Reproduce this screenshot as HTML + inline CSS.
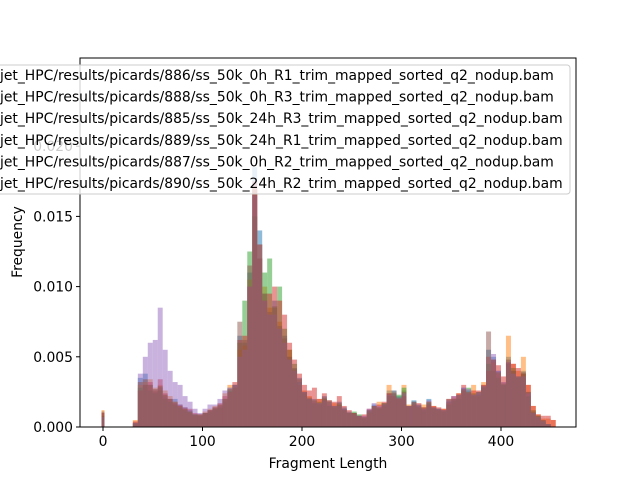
<!DOCTYPE html>
<html><head><meta charset="utf-8"><style>
body{margin:0;background:#fff}
svg text{font-family:"DejaVu Sans","Liberation Sans",sans-serif}
</style></head><body>
<svg id="c" width="640" height="480" xmlns="http://www.w3.org/2000/svg"></svg>
<script>
// bin starts (fragment length), bin width 5
const binStarts = [];
for (let b = 30; b <= 450; b += 5) binStarts.push(b);
const zeroBin = [0.0010,0.0012,0.0008,0.0010,0.0007,0.0011];
// values in thousandths (x0.001)
const s886 = [0.3,3.5,3.8,3.0,2.5,2.8,2.2,2.0,2.0,1.6,1.4,1.2,0.9,0.8,1.0,1.2,1.3,1.5,1.8,2.8,3.0,6.5,6.0,11.0,18.5,14,9.5,8.0,9.0,7.0,6.5,5.0,4.2,3.5,2.5,2.0,2.0,1.6,2.2,1.8,1.5,1.8,1.4,1.1,1.0,0.8,0.7,1.2,1.6,1.4,1.6,2.6,2.4,2.2,2.6,1.4,1.9,1.5,1.3,2.0,1.4,1.3,1.2,1.8,2.0,2.2,2.8,2.6,2.2,2.5,3.0,5.5,5.0,4.0,3.0,5.0,4.0,3.5,4.0,2.5,1.0,0.7,0.5,0.2,0];
const s888 = [0.5,3.0,3.2,3.4,2.8,3.0,2.6,2.2,1.8,1.5,1.3,1.0,0.8,0.9,1.1,1.3,1.5,1.6,2.4,3.0,2.8,5.5,5.8,10.5,17.0,13,10.0,8.5,8.0,7.5,6.0,5.5,4.0,3.0,2.6,2.2,1.8,2.0,1.9,1.6,1.7,1.5,1.2,1.0,0.9,0.7,0.8,1.0,1.4,1.8,1.5,3.0,2.5,2.0,3.0,1.6,1.7,1.4,1.6,1.8,1.5,1.2,1.3,1.7,2.1,2.4,2.6,2.5,3.0,2.2,3.2,5.0,4.6,3.8,3.2,6.5,4.5,4.0,5.0,3.0,1.5,0.9,0.6,0.6,0.5];
const s885 = [0.2,2.8,3.0,2.6,2.4,2.6,2.0,1.8,1.6,1.4,1.2,1.1,0.9,0.8,1.0,1.1,1.3,1.4,2.0,2.6,2.8,6.0,9.0,12.5,15.0,12,11.0,12.0,8.5,10.0,7.0,5.5,4.5,3.2,2.4,2.0,1.7,1.8,2.0,1.5,1.4,1.6,1.2,1.0,1.1,0.9,0.6,1.1,1.5,1.3,1.7,2.2,2.6,2.3,2.8,1.5,1.8,1.4,1.2,1.7,1.3,1.2,1.1,1.6,1.9,2.0,2.6,2.8,2.4,2.3,2.8,4.5,4.0,3.5,3.0,4.5,4.2,3.6,3.8,2.2,1.2,0.8,0.4,0.2,0];
const s889 = [0.4,2.6,3.0,3.2,2.6,3.4,2.4,2.0,1.7,1.6,1.4,1.3,1.0,0.9,1.0,1.2,1.4,1.7,2.2,2.5,3.2,6.2,6.5,10.0,17.5,12,9.0,9.5,10.0,9.0,8.0,6.0,4.8,3.8,3.0,2.6,2.8,2.0,2.4,1.9,1.8,2.2,1.5,1.2,1.0,0.8,0.9,1.3,1.5,1.6,1.8,2.4,2.2,2.0,2.2,1.5,1.6,1.7,1.4,1.6,1.5,1.4,1.3,2.0,2.2,2.4,3.0,2.4,2.6,2.6,3.0,4.0,4.8,4.4,3.6,4.6,4.5,4.2,3.8,3.0,1.5,0.9,0.8,0.8,0.5];
const s887 = [0.3,3.8,5.0,6.0,6.2,8.5,5.5,4.0,3.2,3.0,2.2,1.8,1.3,1.0,1.3,1.6,1.6,2.0,2.6,2.8,3.0,5.0,5.5,10.0,16.5,13,9.0,8.0,8.0,7.0,6.0,4.8,4.0,3.2,2.5,2.0,1.8,1.7,1.9,1.6,1.5,1.5,1.3,1.0,0.9,0.8,0.8,1.3,1.7,1.5,1.6,2.3,2.6,2.1,2.4,1.5,1.8,1.6,1.3,1.9,1.4,1.3,1.2,1.9,2.2,2.3,2.8,2.7,2.3,2.4,2.9,5.0,5.2,4.0,3.2,4.6,3.8,3.6,3.6,2.4,1.0,0.7,0.4,0.2,0];
const s890 = [0.3,3.2,3.4,3.0,2.7,2.9,2.3,2.0,1.8,1.5,1.3,1.1,0.9,0.9,1.0,1.2,1.4,1.6,2.0,2.7,3.0,7.5,6.2,11.5,17.0,13,9.5,8.2,8.6,7.2,6.3,5.0,4.1,3.4,2.5,2.1,1.9,1.7,2.1,1.9,1.5,1.7,1.3,1.0,1.0,0.8,0.7,1.2,1.5,1.4,1.7,2.4,2.4,2.1,2.5,1.5,1.8,1.6,1.4,1.8,1.4,1.3,1.2,2.0,2.0,2.3,2.7,2.5,2.3,2.5,2.9,6.8,4.8,3.9,3.1,4.8,4.0,3.6,3.9,2.5,1.1,0.8,0.5,0.2,0];
const seriesValues = [s886,s888,s885,s889,s887,s890];
const legendLabels = [
 "jet_HPC/results/picards/886/ss_50k_0h_R1_trim_mapped_sorted_q2_nodup.bam",
 "jet_HPC/results/picards/888/ss_50k_0h_R3_trim_mapped_sorted_q2_nodup.bam",
 "jet_HPC/results/picards/885/ss_50k_24h_R3_trim_mapped_sorted_q2_nodup.bam",
 "jet_HPC/results/picards/889/ss_50k_24h_R1_trim_mapped_sorted_q2_nodup.bam",
 "jet_HPC/results/picards/887/ss_50k_0h_R2_trim_mapped_sorted_q2_nodup.bam",
 "jet_HPC/results/picards/890/ss_50k_24h_R2_trim_mapped_sorted_q2_nodup.bam"];
const xTicks = [0,100,200,300,400];
const yTicks = [0,0.005,0.010,0.015,0.020];
const yTickLabels = ["0.000","0.005","0.010","0.015","0.020"];
const colors = ["#1f77b4","#ff7f0e","#2ca02c","#d62728","#9467bd","#8c564b"];
const binWidth = 5;

const NS="http://www.w3.org/2000/svg";
const svg=document.getElementById('c');
const L=80,R=576,T=58,B=427;
const FS=13.9;
const xs=v=>103+0.995*v;
const ys=v=>427-14040*v;
function mk(t,a,p){const e=document.createElementNS(NS,t);for(const k in a)e.setAttribute(k,a[k]);(p||svg).appendChild(e);return e;}

const plot=mk('g',{});


seriesValues.forEach((vals,si)=>{
  const g=mk('g',{fill:colors[si],'fill-opacity':0.5},plot);
  
  
  const z=mk('rect',{x:xs(-1.5),y:ys(zeroBin[si]),width:xs(1.5)-xs(-1.5),height:B-ys(zeroBin[si])},g);
  
  
  vals.forEach((v,i)=>{
    const val=v/1000; if(val<=0)return;
    const r=mk('rect',{x:xs(binStarts[i]),y:ys(val),width:xs(binStarts[i]+binWidth)-xs(binStarts[i]),height:B-ys(val)},g);
    
    
  });
});
const fr=mk('rect',{x:L,y:T,width:R-L,height:B-T,fill:'none',stroke:'#000','stroke-width':1});


xTicks.forEach(t=>{
  mk('line',{x1:xs(t),x2:xs(t),y1:B,y2:B+4,stroke:'#000'});
  const tx=mk('text',{x:xs(t),y:B+19,'text-anchor':'middle','font-size':FS});
  tx.textContent=t;
  
  
});
yTicks.forEach((t,i)=>{
  mk('line',{x1:L-4,x2:L,y1:ys(t),y2:ys(t),stroke:'#000'});
  const tx=mk('text',{x:L-7,y:ys(t)+5,'text-anchor':'end','font-size':FS});
  tx.textContent=yTickLabels[i];
  
  
});
const xl=mk('text',{x:328,y:468,'text-anchor':'middle','font-size':FS});
xl.textContent='Fragment Length';


const yl=mk('text',{x:22,y:242,'text-anchor':'middle','font-size':FS,transform:'rotate(-90 22 242)'});
yl.textContent='Frequency';


// legend
const lg=mk('g',{});


mk('rect',{x:-10,y:65,width:580,height:129,rx:3,fill:'#fff','fill-opacity':0.8,stroke:'#ccc'},lg);
legendLabels.forEach((s,i)=>{
  const tx=mk('text',{x:0,y:80+i*21.6,'font-size':FS},lg);
  tx.textContent=s;
  
  
});
</script>
</body></html>
